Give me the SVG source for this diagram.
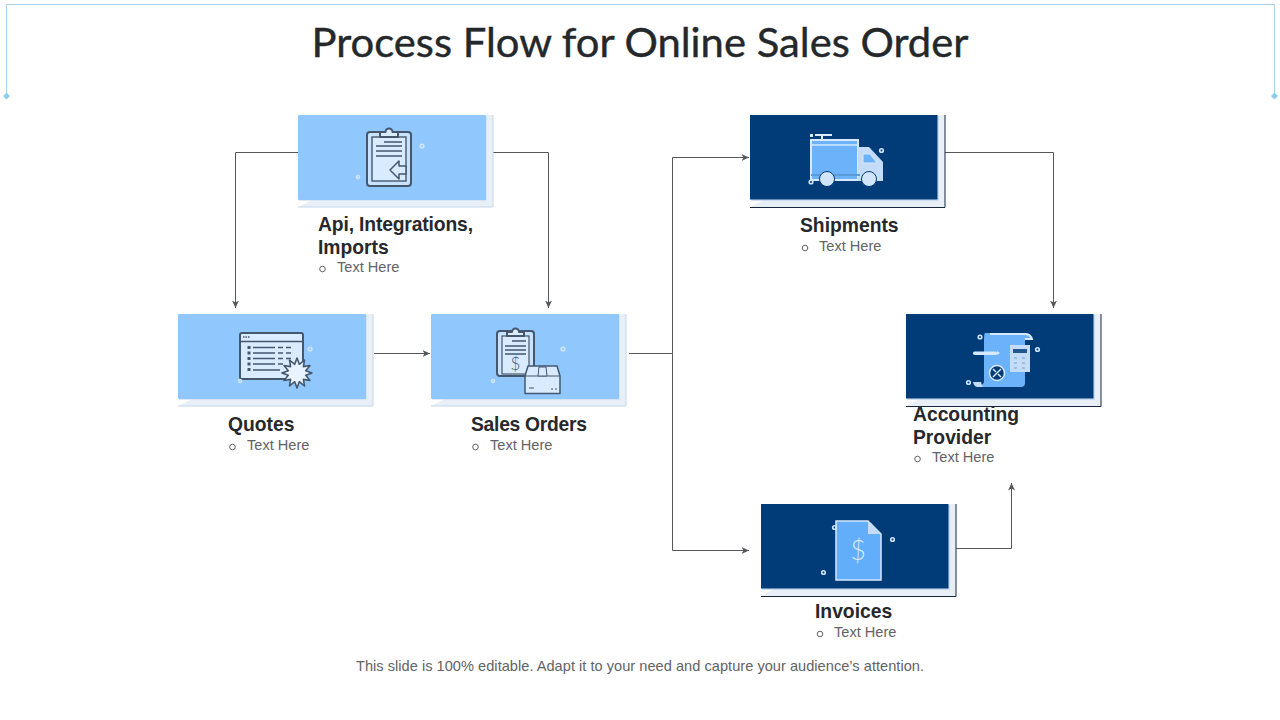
<svg xmlns="http://www.w3.org/2000/svg" width="1280" height="720" viewBox="0 0 1280 720">
<style>
text{font-family:"Liberation Sans",Arial,sans-serif}
.h{font-size:19.3px;font-weight:700;fill:#26282b}
.b{font-size:14.6px;fill:#626366}
.c{fill:none;stroke:#55575a;stroke-width:1}
.il{fill:#d9ebff;stroke:#44576f;stroke-width:2;stroke-linejoin:round}
.ll{fill:none;stroke:#44576f;stroke-width:1.6}
.dot{fill:none;stroke:#cfe4fb;stroke-width:1.6}
.ring{fill:none;stroke:#626366;stroke-width:1}
</style>
<defs>
<marker id="a" markerWidth="9" markerHeight="8" refX="7.5" refY="4" orient="auto" markerUnits="userSpaceOnUse"><path d="M0 .5L7.5 4L0 7.5L2 4Z" fill="#55575a"/></marker>
<g id="lc"><path d="M0 92L14 85H188V0H195V92Z" fill="#e9eff7"/><path d="M195 0V92H0" fill="none" stroke="#c6d6e8" stroke-width="1"/><rect x="1" y="1" width="188" height="85" fill="#cfe0f2" opacity=".7"/><rect width="188" height="85" rx="1" fill="#90c8fd"/></g>
<g id="dc"><path d="M0 92L14 85H187V0H195V92Z" fill="#e9eff7"/><path d="M195 0V92.500H0" fill="none" stroke="#17273d" stroke-width="1"/><rect x="1" y="1" width="188" height="85" fill="#bcd3ec" opacity=".7"/><rect width="187.500" height="84.500" fill="#023c78"/></g>
</defs>
<g id="frame"><path d="M6.500 95V4.500H1274.500V95" fill="none" stroke="#a6d3e8" stroke-width="1"/><path d="M6.500 92.500l3.500 3.500-3.500 3.500-3.500-3.500zM1274.500 92.500l3.500 3.500-3.500 3.500-3.500-3.500z" fill="#8fcbec"/></g>
<text id="title" x="640" y="57" text-anchor="middle" font-size="41" fill="#25282b" stroke="#25282b" stroke-width=".4" textLength="657" lengthAdjust="spacingAndGlyphs" style="font-family:Lato,'Liberation Sans',sans-serif">Process Flow for Online Sales Order</text>
<g id="connectors">
<path class="c" marker-end="url(#a)" d="M298 152.500H235.500V308"/>
<path class="c" marker-end="url(#a)" d="M493 152.500H548.500V308"/>
<path class="c" marker-end="url(#a)" d="M374 353.500H430"/>
<path class="c" d="M629 353.500H672.500"/>
<path class="c" marker-end="url(#a)" d="M672.500 353.500V157.500H749"/>
<path class="c" marker-end="url(#a)" d="M672.500 353.500V550.500H749"/>
<path class="c" marker-end="url(#a)" d="M945 152.500H1053.500V308"/>
<path class="c" marker-end="url(#a)" d="M956 548.500H1011.500V483"/>
</g>
<g id="api">
<use href="#lc" x="298" y="115"/>
<rect class="il" x="367" y="132" width="44" height="54" rx="3" style="fill:#c9e2fd"/>
<rect x="372" y="137" width="34" height="44" fill="#d9ebff" stroke="#44576f" stroke-width="1.400"/>
<path class="il" d="M380 137v-5h5.500a3.500 3.500 0 0 1 7 0H398v5z"/>
<path class="ll" d="M384 142H402M376 146H402M376 151H402M376 156H402"/>
<path class="il" d="M390 170l9-9v5h7v8h-7v5z" style="stroke-width:1.500"/>
<circle class="dot" cx="422" cy="146" r="1.800"/><circle class="dot" cx="358" cy="177" r="1.500"/>
<text class="h"><tspan x="318" y="231" textLength="155">Api, Integrations,</tspan><tspan x="318" y="254">Imports</tspan></text>
<circle class="ring" cx="322.500" cy="269" r="2.800"/><text class="b" x="337" y="272">Text Here</text>
</g>
<g id="quotes">
<use href="#lc" x="178" y="314"/>
<rect class="il" x="240" y="333" width="63" height="46" rx="2"/>
<path class="ll" d="M240 341.500H303"/>
<path d="M243 337h7" stroke="#44576f" stroke-width="1.500" stroke-dasharray="1.500 1"/>
<path class="ll" d="M253 347.500H275M278 347.500H283M286 347.500H291M253 353H275M278 353H283M286 353H291M253 358.500H275M278 358.500H283M286 358.500H291M253 364H275M278 364H283M253 370H280"/>
<path d="M249 346v25" stroke="#44576f" stroke-width="3" stroke-dasharray="3 2.500"/>
<path class="il" style="fill:#e8f3ff;stroke-width:1.600" d="M312 373L305.700 375.300L310 380.500L303.400 379.400L304.500 386L299.300 381.700L297 388L294.700 381.700L289.500 386L290.600 379.400L284 380.500L288.300 375.300L282 373L288.300 370.700L284 365.500L290.600 366.600L289.500 360L294.700 364.300L297 358L299.300 364.300L304.500 360L303.400 366.600L310 365.500L305.700 370.700Z"/>
<circle class="dot" cx="310" cy="349" r="1.800"/><circle class="dot" cx="240" cy="381" r="1.500"/>
<text class="h" x="228" y="431">Quotes</text>
<circle class="ring" cx="232.500" cy="447" r="2.800"/><text class="b" x="247" y="450">Text Here</text>
</g>
<g id="sales">
<use href="#lc" x="431" y="314"/>
<rect class="il" x="497" y="331" width="37" height="45" rx="3" style="fill:#c9e2fd"/>
<rect x="502" y="336" width="27" height="38" fill="#d9ebff" stroke="#44576f" stroke-width="1.200"/>
<path class="il" d="M507 336v-4h5a3.500 3.500 0 0 1 7 0h5v4z"/>
<path class="ll" d="M512 341H526M505 346H526M505 350H526M505 354H526"/>
<text x="515.500" y="370" text-anchor="middle" font-size="17" fill="#44576f" style="font-family:Lato,sans-serif;font-weight:300">$</text>
<path class="il" d="M525 376l3-10h29l3 10v17.500h-35z" style="stroke-width:1.500"/>
<path class="ll" d="M525 376H560" style="stroke-width:1.200"/>
<path d="M539 367h7l1 9h-9z" fill="#d9ebff" stroke="#44576f"/>
<path d="M529 388h5M551 389h2M555 389h2" stroke="#44576f"/>
<circle class="dot" cx="563" cy="349" r="1.800"/><circle class="dot" cx="493" cy="381" r="1.500"/>
<text class="h" x="471" y="431" textLength="116">Sales Orders</text>
<circle class="ring" cx="475.500" cy="447" r="2.800"/><text class="b" x="490" y="450">Text Here</text>
</g>
<g id="shipments">
<use href="#dc" x="750" y="115"/>
<path d="M815 135h17M822 135v4" stroke="#dcecff" stroke-width="2" fill="none"/><rect x="810" y="134" width="3" height="3" fill="#dcecff"/>
<rect x="811" y="140" width="47" height="40" fill="#6cb2fb" stroke="#d6e9ff" stroke-width="2"/>
<path d="M811 145H858" stroke="#d6e9ff" stroke-width="1.500"/>
<path d="M859 147h10l14 15v19h-25v-34z" fill="#c4dcf8"/>
<path d="M863 154h7l7 9h-14z" fill="#6cb2fb" stroke="#d6e9ff"/>
<path d="M811 175H822M834 175H860" stroke="#5b9bd8" stroke-width="2"/>
<circle cx="827" cy="179" r="7.500" fill="#d2e4fa" stroke="#023c78"/><circle cx="869" cy="179" r="7.500" fill="#d2e4fa" stroke="#023c78"/>
<circle class="dot" cx="881.500" cy="150.500" r="1.800"/><circle class="dot" cx="811" cy="182" r="1.800"/>
<text class="h" x="800" y="232">Shipments</text>
<circle class="ring" cx="805" cy="248" r="2.800"/><text class="b" x="819" y="251">Text Here</text>
</g>
<g id="accounting">
<use href="#dc" x="906" y="314"/>
<path d="M985 333h41q6 1 6 6h-7v44q0 4-4 4H983q-4 0-5-1q5-1 6-4V340q0-6 1-7z" fill="#6cb2fb"/>
<path d="M990 334h36q5 1 6 5h-7" fill="none" stroke="#d6e9ff" stroke-width="2"/>
<path d="M973 382h8q1 5 3 5h-6q-4 0-5-5z" fill="#c4dcf8"/>
<rect x="973" y="351.500" width="24" height="3.500" rx="1.700" fill="#d6e9ff"/>
<path d="M997 351l3 2-3 2z" fill="#d6e9ff"/>
<rect x="1010" y="345" width="20" height="27" fill="#c4dcf8"/><rect x="1013" y="349" width="14" height="4" fill="#23588f"/>
<path d="M1014 358h3M1022 358h3M1014 363h3M1022 363h3M1014 368h3M1022 368h3" stroke="#7d9fc4"/>
<circle cx="997" cy="373" r="7.500" fill="#023c78" stroke="#d6e9ff" stroke-width="1.500"/>
<path d="M993 377l8-8M993 369l3 3M998 374l3 3" stroke="#d6e9ff" stroke-width="1.500"/>
<circle class="dot" cx="980" cy="337" r="1.800"/><circle class="dot" cx="1037.500" cy="349.500" r="1.800"/><circle class="dot" cx="968.500" cy="382.500" r="1.800"/>
<text class="h"><tspan x="913" y="421">Accounting</tspan><tspan x="913" y="444">Provider</tspan></text>
<circle class="ring" cx="917.500" cy="459" r="2.800"/><text class="b" x="932" y="462">Text Here</text>
</g>
<g id="invoices">
<use href="#dc" x="761" y="504"/>
<path d="M836 521h32l13 13v46h-45z" fill="#63aefb" stroke="#d6e9ff" stroke-width="1.500"/>
<path d="M868 521v13h13z" fill="#c4dcf8"/>
<text x="858" y="560" text-anchor="middle" font-size="27" fill="#d6e9ff" style="font-family:Lato,sans-serif;font-weight:300">$</text>
<circle class="dot" cx="834.500" cy="527.500" r="1.800"/><circle class="dot" cx="892.500" cy="539.500" r="1.800"/><circle class="dot" cx="823.500" cy="572.500" r="1.800"/>
<text class="h" x="815" y="618">Invoices</text>
<circle class="ring" cx="820" cy="634" r="2.800"/><text class="b" x="834" y="637">Text Here</text>
</g>
<text class="b" x="640" y="671" text-anchor="middle" textLength="568">This slide is 100% editable. Adapt it to your need and capture your audience’s attention.</text>
</svg>
